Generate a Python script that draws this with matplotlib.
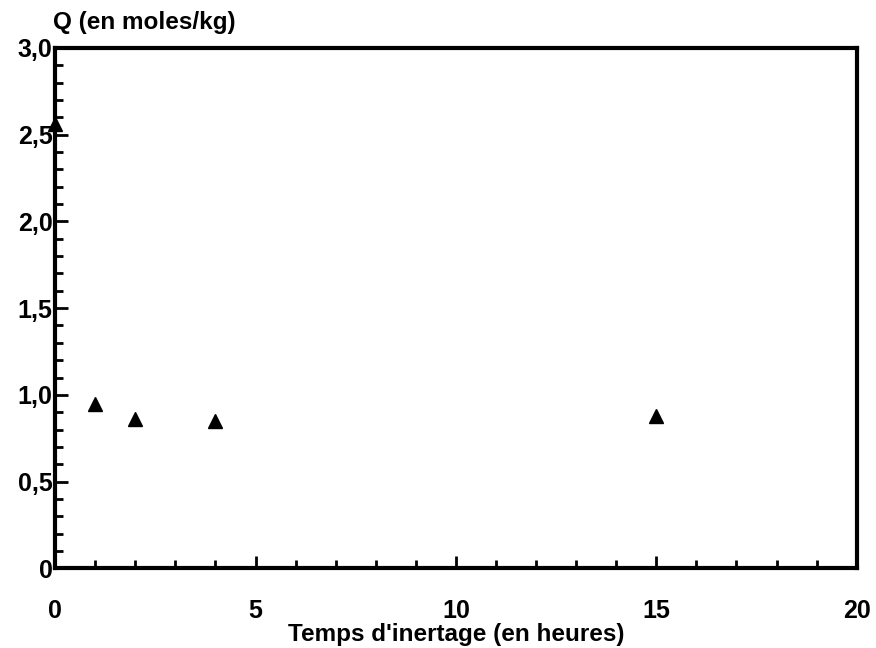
import matplotlib.pyplot as plt
from matplotlib.ticker import MultipleLocator, FuncFormatter

# Temps d'inertage (heures) vs Q (moles/kg)
temps = [0, 1, 2, 4, 15]
q_moles = [2.56, 0.95, 0.86, 0.85, 0.88]

x_ticks = [0, 5, 10, 15, 20]
y_ticks = [0, 0.5, 1.0, 1.5, 2.0, 2.5, 3.0]

plt.rcParams['font.family'] = ['Liberation Sans', 'DejaVu Sans']
plt.rcParams['font.weight'] = 'bold'

fig = plt.figure(figsize=(8.76, 6.48), dpi=100)
ax = fig.add_axes([0.063, 0.123, 0.915, 0.803])

ax.plot(temps, q_moles, linestyle='none', marker='^', color='black',
        markersize=10, clip_on=False, zorder=5)

ax.set_xlim(0, 20)
ax.set_ylim(0, 3.0)
ax.set_xticks(x_ticks)
ax.set_yticks(y_ticks)
ax.xaxis.set_minor_locator(MultipleLocator(1))
ax.yaxis.set_minor_locator(MultipleLocator(0.1))


def fmt_y(v, pos):
    if v == 0:
        return '0'
    return '{:.1f}'.format(v).replace('.', ',')


ax.yaxis.set_major_formatter(FuncFormatter(fmt_y))

ax.tick_params(axis='both', which='both', direction='in', width=2,
               top=False, right=False, labelsize=18)
ax.tick_params(axis='both', which='major', length=9)
ax.tick_params(axis='both', which='minor', length=6)
ax.tick_params(axis='x', which='major', pad=22)
ax.tick_params(axis='y', which='major', pad=2)

for s in ax.spines.values():
    s.set_linewidth(3)

ax.set_xlabel("Temps d'inertage (en heures)", fontsize=17.5, fontweight='bold', labelpad=0)
fig.text(0.06, 0.948, "Q (en moles/kg)", fontsize=17.5, fontweight='bold',
         ha='left', va='bottom')

fig.savefig('out.png', dpi=100)
